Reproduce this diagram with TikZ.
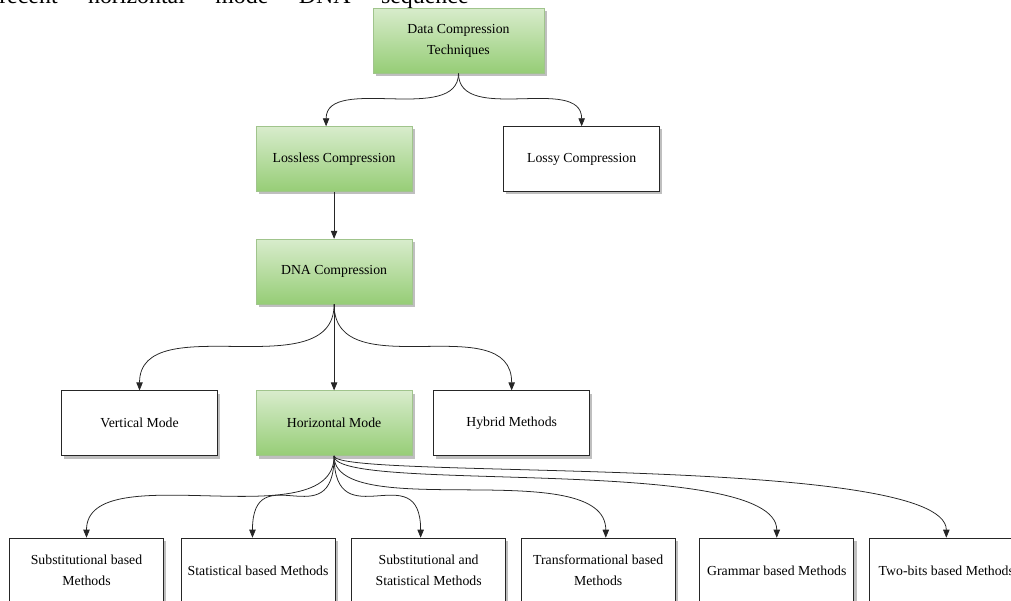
\documentclass[tikz,border=0pt]{standalone}
\usepackage{fontspec}
\setmainfont{Liberation Serif}
\usetikzlibrary{arrows.meta, positioning, shadows}
\definecolor{gtop}{RGB}{216,236,204}
\definecolor{gbot}{RGB}{150,205,118}
\definecolor{gline}{RGB}{160,196,140}
\tikzset{
  box/.style  = {rectangle, draw=black!85, fill=white, minimum width=39mm,
                 minimum height=16.25mm, align=center, inner sep=2pt,
                 font=\fontsize{9.8}{15}\selectfont,
                 drop shadow={shadow xshift=0.7mm, shadow yshift=-0.7mm,
                              fill=black!25, opacity=1}},
  grn/.style  = {box, draw=gline, top color=gtop, bottom color=gbot},
  mbox/.style = {box, minimum width=38.5mm},
  fl/.style   = {-{Triangle[length=2mm,width=1.6mm]}, draw=black!85, line width=0.55pt},
  cv/.style 2 args = {fl, to path={.. controls +(0,-#1) and +(0,#2) .. (\tikztotarget)}},
}

\begin{document}
\begin{tikzpicture}[x=0.25mm, y=-0.25mm]
  \useasboundingbox (0,0) rectangle (1011,600);
  \clip (0,0) rectangle (1011,600);

  % cut-off line of the running text above the figure
  \node[anchor=base west, inner sep=0pt, font=\fontsize{17}{20}\selectfont] (cap) at (-1,3)
    {recent\hspace{7.6mm}horizontal\hspace{7.6mm}mode\hspace{7.6mm}DNA\hspace{7.6mm}sequence};

  \node[grn, minimum width=42.75mm] (dct) at (458.5,40.5) {Data Compression\\Techniques};
  \node[grn, below=13.25mm of dct, xshift=-31.1mm] (lossless) {Lossless Compression};
  \node[box, right=22.75mm of lossless] (lossy) {Lossy Compression};
  \node[grn, below=11.75mm of lossless] (dna) {DNA Compression};
  \node[grn, below=21.5mm of dna] (hor) {Horizontal Mode};
  \node[box, left=9.5mm of hor] (ver) {Vertical Mode};
  \node[box, right=5.25mm of hor] (hyb) {Hybrid Methods};

  \node[mbox] (sub) at (86.5,570.5) {Substitutional based\\Methods};
  \node[mbox, right=4.25mm of sub] (stat) {Statistical based Methods};
  \node[mbox, right=4mm of stat] (subst) {Substitutional and\\Statistical Methods};
  \node[mbox, right=3.75mm of subst] (trans) {Transformational based\\Methods};
  \node[mbox, right=6mm of trans] (gram) {Grammar based Methods};
  \node[mbox, right=3.75mm of gram] (two) {Two-bits based Methods};

  \draw[cv={13mm}{13mm}] (dct.south) to ([xshift=-2mm]lossless.north);
  \draw[cv={13mm}{13mm}] (dct.south) to (lossy.north);
  \draw[fl] (lossless) -- (dna);
  \draw[cv={21mm}{21mm}] (dna.south) to (ver.north);
  \draw[fl] (dna) -- (hor);
  \draw[cv={21mm}{21mm}] (dna.south) to (hyb.north);
  \foreach \t/\s/\c in {sub/0/21, stat/-1.4/21, subst/-2/21, trans/1.9/17, gram/0/9.5, two/0/6}
    \draw[cv={\c mm}{21mm}] (hor.south) to ([xshift=\s mm]\t.north);
\end{tikzpicture}
\end{document}
